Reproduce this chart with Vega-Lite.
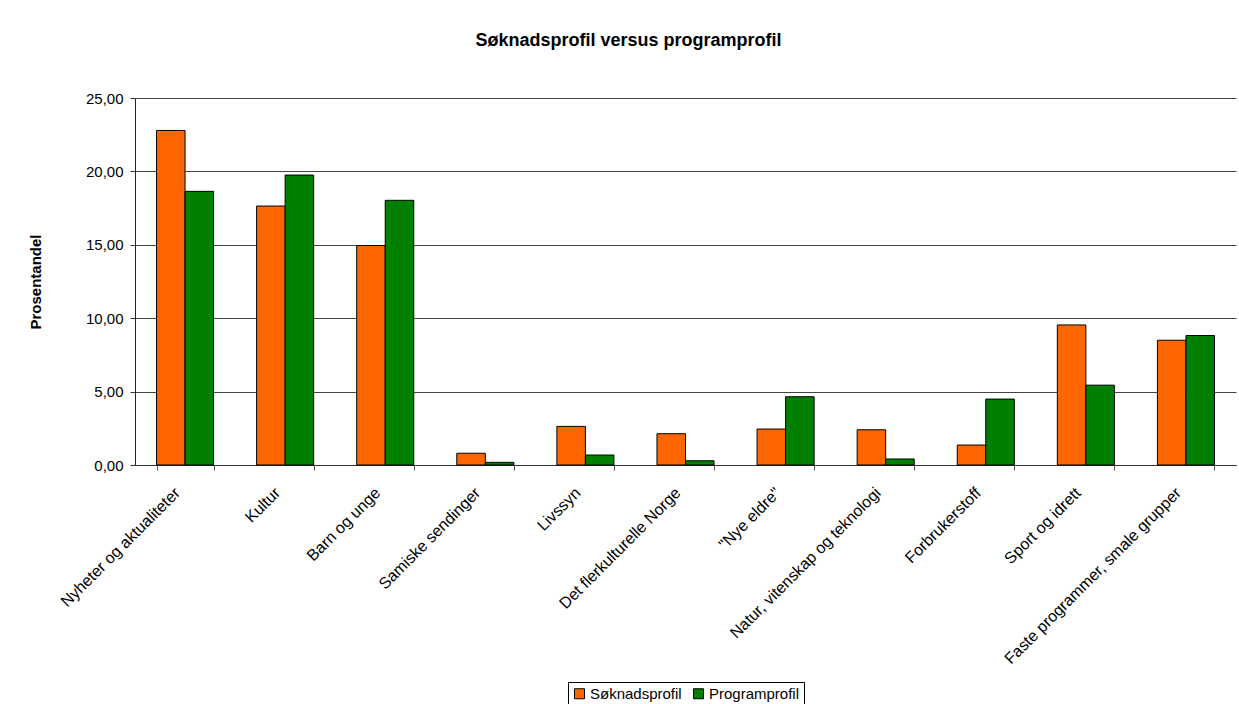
{
  "$schema": "https://vega.github.io/schema/vega-lite/v6.json",
  "autosize": {"type": "none"},
  "width": 1101,
  "height": 367,
  "padding": {"left": 135, "top": 98, "right": 3, "bottom": 239},
  "background": "white",
  "title": {
    "text": "Søknadsprofil versus programprofil",
    "font": "Liberation Sans",
    "fontSize": 18,
    "fontWeight": "bold",
    "color": "black",
    "anchor": "middle",
    "dx": -57,
    "offset": 41
  },
  "data": {
    "values": [
      {"kategori": "Nyheter og aktualiteter", "serie": "Søknadsprofil", "verdi": 22.79},
      {"kategori": "Nyheter og aktualiteter", "serie": "Programprofil", "verdi": 18.64},
      {"kategori": "Kultur", "serie": "Søknadsprofil", "verdi": 17.64},
      {"kategori": "Kultur", "serie": "Programprofil", "verdi": 19.75},
      {"kategori": "Barn og unge", "serie": "Søknadsprofil", "verdi": 14.95},
      {"kategori": "Barn og unge", "serie": "Programprofil", "verdi": 18.03},
      {"kategori": "Samiske sendinger", "serie": "Søknadsprofil", "verdi": 0.80},
      {"kategori": "Samiske sendinger", "serie": "Programprofil", "verdi": 0.18},
      {"kategori": "Livssyn", "serie": "Søknadsprofil", "verdi": 2.63},
      {"kategori": "Livssyn", "serie": "Programprofil", "verdi": 0.68},
      {"kategori": "Det flerkulturelle Norge", "serie": "Søknadsprofil", "verdi": 2.13},
      {"kategori": "Det flerkulturelle Norge", "serie": "Programprofil", "verdi": 0.29},
      {"kategori": "\"Nye eldre\"", "serie": "Søknadsprofil", "verdi": 2.45},
      {"kategori": "\"Nye eldre\"", "serie": "Programprofil", "verdi": 4.65},
      {"kategori": "Natur, vitenskap og teknologi", "serie": "Søknadsprofil", "verdi": 2.40},
      {"kategori": "Natur, vitenskap og teknologi", "serie": "Programprofil", "verdi": 0.41},
      {"kategori": "Forbrukerstoff", "serie": "Søknadsprofil", "verdi": 1.36},
      {"kategori": "Forbrukerstoff", "serie": "Programprofil", "verdi": 4.49},
      {"kategori": "Sport og idrett", "serie": "Søknadsprofil", "verdi": 9.54},
      {"kategori": "Sport og idrett", "serie": "Programprofil", "verdi": 5.44},
      {"kategori": "Faste programmer, smale grupper", "serie": "Søknadsprofil", "verdi": 8.50},
      {"kategori": "Faste programmer, smale grupper", "serie": "Programprofil", "verdi": 8.82}
    ]
  },
  "mark": {"type": "bar", "stroke": "black", "strokeWidth": 1},
  "encoding": {
    "x": {
      "field": "kategori",
      "type": "nominal",
      "sort": null,
      "scale": {"paddingInner": 0.43, "paddingOuter": 0.215},
      "axis": {
        "title": null,
        "labelAngle": -45,
        "labelAlign": "right",
        "labelBaseline": "middle",
        "labelFont": "Liberation Sans",
        "labelFontSize": 16,
        "labelColor": "black",
        "labelPadding": 20,
        "labelOffset": -8,
        "tickBand": "extent",
        "tickColor": "#555555",
        "tickSize": 5,
        "domainColor": "#333333",
        "labelLimit": 400
      }
    },
    "xOffset": {
      "field": "serie",
      "type": "nominal",
      "sort": ["Søknadsprofil", "Programprofil"],
      "scale": {"paddingInner": 0, "paddingOuter": 0}
    },
    "y": {
      "field": "verdi",
      "type": "quantitative",
      "scale": {"domain": [0, 25], "nice": false},
      "axis": {
        "title": "Prosentandel",
        "titleFont": "Liberation Sans",
        "titleFontSize": 15,
        "titleFontWeight": "bold",
        "titleColor": "black",
        "titlePadding": 42,
        "values": [0, 5, 10, 15, 20, 25],
        "labelExpr": "replace(format(datum.value, '.2f'), '.', ',')",
        "labelFont": "Liberation Sans",
        "labelFontSize": 15,
        "labelColor": "black",
        "labelPadding": 7,
        "tickColor": "#333333",
        "tickSize": 5,
        "domainColor": "#222222",
        "gridColor": "#444444",
        "gridWidth": 1
      }
    },
    "color": {
      "field": "serie",
      "type": "nominal",
      "scale": {"domain": ["Søknadsprofil", "Programprofil"], "range": ["#FF6600", "#008000"]},
      "legend": {
        "title": null,
        "orient": "none",
        "legendX": 433,
        "legendY": 584,
        "direction": "horizontal",
        "symbolType": "square",
        "symbolSize": 100,
        "symbolStrokeColor": "black",
        "symbolStrokeWidth": 1,
        "symbolOpacity": 1,
        "labelFont": "Liberation Sans",
        "labelFontSize": 15,
        "labelColor": "black",
        "labelOffset": 3,
        "columnPadding": 9,
        "strokeColor": "black",
        "padding": 4,
        "fillColor": "white"
      }
    }
  },
  "config": {
    "view": {"stroke": null},
    "axis": {"grid": true},
    "axisX": {"grid": false}
  }
}
